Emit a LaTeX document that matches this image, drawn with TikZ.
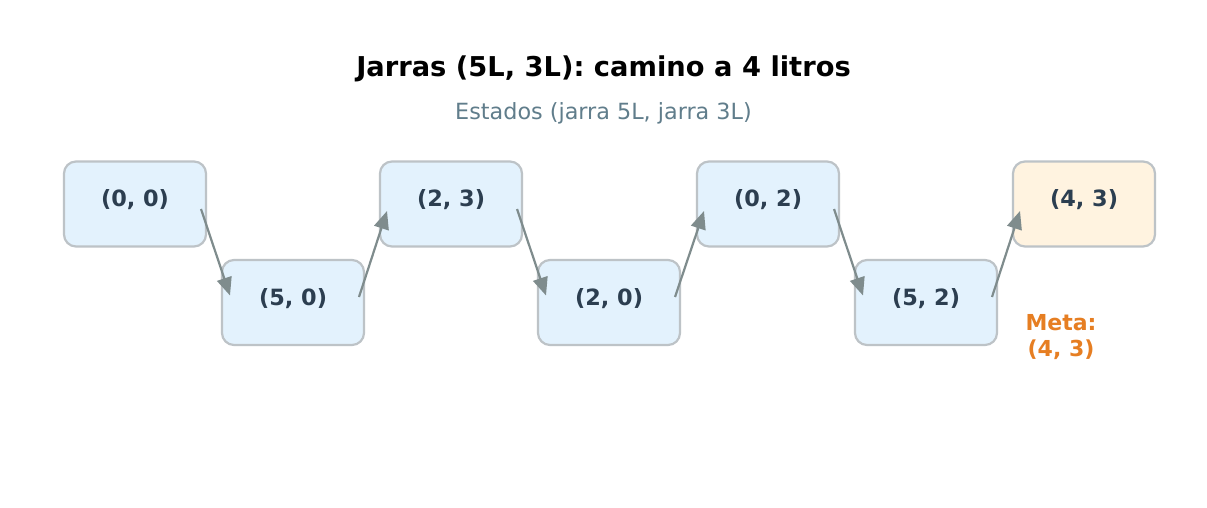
\documentclass[tikz,border=0pt]{standalone}
\usepackage{fontspec}
\setmainfont{DejaVu Sans}
\usetikzlibrary{calc,arrows.meta}
\definecolor{boxfill}{HTML}{E3F2FD}
\definecolor{goalfill}{HTML}{FFF3E0}
\definecolor{boxline}{HTML}{BDC3C7}
\definecolor{boxtext}{HTML}{2C3E50}
\definecolor{arrowc}{HTML}{7F8C8D}
\definecolor{metac}{HTML}{E67E22}
\definecolor{subc}{HTML}{607D8B}
\begin{document}
\begin{tikzpicture}[x=1pt,y=1pt,
  state/.style={draw=boxline, line width=2.2pt, fill=boxfill, rounded corners=12pt,
    minimum width=142pt, minimum height=85pt, inner sep=0pt, outer sep=0pt,
    text=boxtext, font=\fontsize{22.4}{26}\selectfont\bfseries,
    text height=5pt, text depth=0pt},
  goal/.style={state, fill=goalfill},
  move/.style={draw=arrowc, line width=2.2pt, -{Triangle[length=18pt,width=15pt]}}
]
\useasboundingbox (0,0) rectangle (1207,507);
\fill[white] (0,0) rectangle (1207,507);
\node[anchor=base, font=\fontsize{27.3}{32}\selectfont\bfseries] (title) at (603.5,430) {Jarras (5L, 3L): camino a 4 litros};
\node[anchor=base, text=subc, font=\fontsize{22.3}{26}\selectfont] (sub) at (603.5,387) {Estados (jarra 5L, jarra 3L)};

\node[state] (b1) at (135,303) {(0, 0)};
\node[state] (b2) at (293,204.5) {(5, 0)};
\node[state] (b3) at (451,303) {(2, 3)};
\node[state] (b4) at (609,204.5) {(2, 0)};
\node[state] (b5) at (768,303) {(0, 2)};
\node[state] (b6) at (926,204.5) {(5, 2)};
\node[goal] (b7) at (1084,303) {(4, 3)};

\node[text=metac, align=center, font=\fontsize{22}{26}\selectfont\bfseries] (meta) at (1061,169.5) {Meta:\\(4, 3)};

\draw[move] ($(b1.east)+(-5,-5)$) -- ($(b2.west)+(8,7)$);
\draw[move] ($(b2.east)+(-5,5.5)$) -- ($(b3.west)+(7,-7)$);
\draw[move] ($(b3.east)+(-5,-5)$) -- ($(b4.west)+(8,7)$);
\draw[move] ($(b4.east)+(-5,5.5)$) -- ($(b5.west)+(7,-7)$);
\draw[move] ($(b5.east)+(-5,-5)$) -- ($(b6.west)+(8,7)$);
\draw[move] ($(b6.east)+(-5,5.5)$) -- ($(b7.west)+(7,-7)$);
\end{tikzpicture}
\end{document}
